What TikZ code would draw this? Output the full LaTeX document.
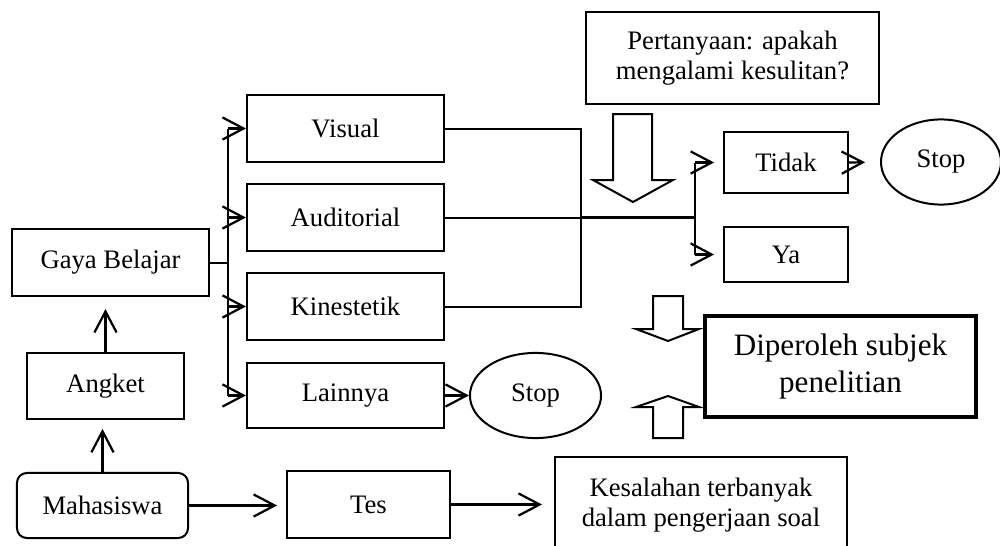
\documentclass[tikz,border=0pt]{standalone}
\usepackage{fontspec}
\setmainfont{Liberation Serif}
\usetikzlibrary{arrows.meta,shapes.geometric}
\tikzstyle{boxStyle}=[shape = rectangle, draw, line width = 0.9pt, inner sep = 2pt, align = center, font = \fontsize{12}{13.8}\selectfont]
\tikzstyle{stopStyle}=[shape = ellipse, draw, line width = 0.9pt, inner sep = 0pt, font = \fontsize{12}{13.8}\selectfont]
\tikzstyle{arrowStyle}=[-{Straight Barb[length = 9.5pt, width = 10pt]}, line width = 1pt]
\tikzstyle{blockArrow}=[draw, line width = 0.9pt, fill = white, line join = miter]

\begin{document}
\begin{tikzpicture}[x = 0.45pt, y = -0.45pt]
\clip (0,0) rectangle (1000,546);
\node[boxStyle, minimum width = 88.7pt, minimum height = 30.2pt] (gaya) at (110.5,262.5) {Gaya Belajar};
\node[boxStyle, minimum width = 70.7pt, minimum height = 29.7pt] (angket) at (105.5,386) {Angket};
\node[boxStyle, rounded corners = 4.5pt, minimum width = 77pt, minimum height = 29.3pt] (mahasiswa) at (102.5,505.5) {Mahasiswa};
\node[boxStyle, minimum width = 73.4pt, minimum height = 30.2pt] (tes) at (368.5,504.5) {Tes};
\node[boxStyle, minimum width = 131.4pt, minimum height = 43.2pt] (kesalahan) at (701,505) {Kesalahan terbanyak\\dalam pengerjaan soal};
\node[boxStyle, minimum width = 88.7pt, minimum height = 30.2pt] (visual) at (345.5,128.5) {Visual};
\node[boxStyle, minimum width = 88.7pt, minimum height = 30.2pt] (auditorial) at (345.5,217.5) {Auditorial};
\node[boxStyle, minimum width = 88.7pt, minimum height = 30.2pt] (kinestetik) at (345.5,306.5) {Kinestetik};
\node[boxStyle, minimum width = 88.7pt, minimum height = 29.3pt] (lainnya) at (345.5,395.5) {Lainnya};
\node[stopStyle, minimum width = 59pt, minimum height = 38.3pt] (stopLain) at (535.5,395.5) {Stop};
\node[boxStyle, minimum width = 131.9pt, minimum height = 41.4pt] (pertanyaan) at (732.5,58) {Pertanyaan: apakah\\mengalami kesulitan?};
\node[boxStyle, minimum width = 55.8pt, minimum height = 27.5pt] (tidak) at (786,162.5) {Tidak};
\node[boxStyle, minimum width = 55.8pt, minimum height = 24.8pt] (ya) at (786,254.5) {Ya};
\node[stopStyle, minimum width = 54pt, minimum height = 38.3pt] (stopTidak) at (941,162) {Stop};
\node[boxStyle, line width = 1.8pt, minimum width = 122pt, minimum height = 45.5pt, font = \fontsize{14}{16.5}\selectfont] (diperoleh) at (840.5,366.5) {Diperoleh subjek\\penelitian};
\coordinate (bus) at (228,262.5);
\coordinate (join) at (581,217.5);
\coordinate (split) at (695,217.5);
\draw[line width = 0.9pt] (gaya.east) -- (bus);
\draw[line width = 0.9pt] (bus |- visual.west) -- (bus |- lainnya.west);
\draw[arrowStyle] (bus |- visual.west) -- (visual.west);
\draw[arrowStyle] (bus |- auditorial.west) -- (auditorial.west);
\draw[arrowStyle] (bus |- kinestetik.west) -- (kinestetik.west);
\draw[arrowStyle] (bus |- lainnya.west) -- (lainnya.west);
\draw[arrowStyle] (lainnya.east) -- (stopLain.west);
\draw[arrowStyle, shorten > = 5.4pt] (angket.north) -- (angket.north |- gaya.south);
\draw[arrowStyle, shorten > = 4pt] (mahasiswa.north) -- (mahasiswa.north |- angket.south);
\draw[arrowStyle, shorten > = 4pt] (mahasiswa.east) -- (mahasiswa.east -| tes.west);
\draw[arrowStyle, shorten > = 5.4pt] (tes.east) -- (tes.east -| kesalahan.west);
\draw[line width = 0.9pt] (visual.east) -| (join) |- (kinestetik.east);
\draw[line width = 0.9pt] (auditorial.east) -- (split);
\draw[line width = 1.4pt] (join) -- (split);
\draw[line width = 0.9pt] (split |- tidak.west) -- (split |- ya.west);
\draw[arrowStyle, shorten > = 4pt] (split |- tidak.west) -- (tidak.west);
\draw[arrowStyle, shorten > = 4pt] (split |- ya.west) -- (ya.west);
\draw[arrowStyle, shorten > = 6.7pt] (tidak.east) -- (stopTidak.west);
\draw[blockArrow] (613,114) -- (652,114) -- (652,180) -- (673,180) -- (633,202) -- (593,180) -- (613,180) -- cycle;
\draw[blockArrow] (653,296) -- (683,296) -- (683,329) -- (699,329) -- (668,341) -- (636,329) -- (653,329) -- cycle;
\draw[blockArrow] (653,438) -- (683,438) -- (683,407) -- (699,407) -- (668,396) -- (636,407) -- (653,407) -- cycle;
\end{tikzpicture}
\end{document}
